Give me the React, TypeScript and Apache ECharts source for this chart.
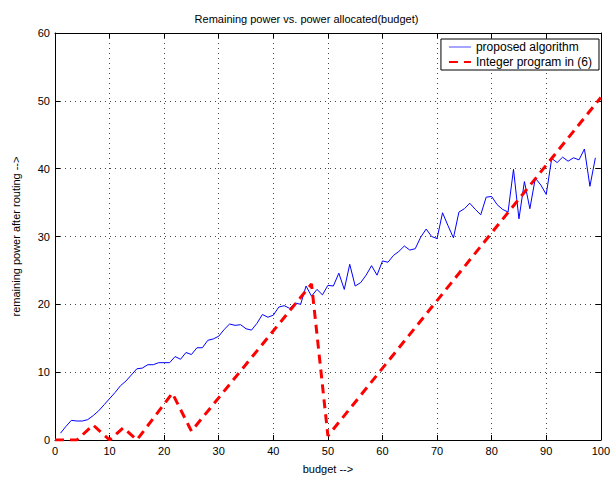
import React, { useEffect, useRef } from "react";
import * as echarts from "echarts";

const title = "Remaining power vs. power allocated(budget)";
const xName = "budget -->";
const yName = "remaining power after routing -->";
const seriesNames = ["proposed algorithm", "Integer program in (6)"];

const budget = [
  1, 2, 3, 4, 5, 6, 7, 8, 9, 10, 11, 12, 13, 14, 15, 16, 17, 18, 19, 20,
  21, 22, 23, 24, 25, 26, 27, 28, 29, 30, 31, 32, 33, 34, 35, 36, 37, 38, 39, 40,
  41, 42, 43, 44, 45, 46, 47, 48, 49, 50, 51, 52, 53, 54, 55, 56, 57, 58, 59, 60,
  61, 62, 63, 64, 65, 66, 67, 68, 69, 70, 71, 72, 73, 74, 75, 76, 77, 78, 79, 80,
  81, 82, 83, 84, 85, 86, 87, 88, 89, 90, 91, 92, 93, 94, 95, 96, 97, 98, 99,
];
const proposed = [
  1.0, 2.0, 2.9, 2.8, 2.8, 3.0, 3.6, 4.3, 5.2, 6.1,
  7.0, 8.0, 8.7, 9.6, 10.5, 10.6, 11.1, 11.1, 11.4, 11.4,
  11.4, 12.3, 11.9, 12.9, 12.6, 13.6, 13.6, 14.7, 14.9, 15.3,
  16.3, 17.1, 16.9, 17.0, 16.4, 16.2, 17.2, 18.5, 18.1, 18.4,
  19.6, 19.8, 19.4, 20.2, 20.0, 22.7, 21.2, 22.2, 21.4, 22.8,
  22.7, 24.6, 22.2, 25.9, 22.7, 23.2, 24.3, 25.7, 24.3, 26.4,
  26.2, 27.2, 27.8, 28.6, 28.0, 28.2, 29.9, 31.1, 30.0, 29.7,
  33.5, 31.6, 29.8, 33.6, 34.1, 34.9, 34.0, 33.2, 35.8, 35.9,
  34.7, 34.0, 33.6, 39.9, 32.6, 38.1, 34.1, 38.6, 37.6, 36.2,
  41.5, 40.9, 41.7, 41.1, 41.6, 41.3, 42.9, 37.4, 41.6,
];
const intX = [0, 4, 7, 10, 12.5, 15, 21.5, 25, 47, 50, 100];
const intY = [0, 0, 2.2, 0, 1.8, 0, 6.9, 1.3, 23, 0.6, 50.5];

const FONT = "Liberation Sans, Arial, Helvetica, sans-serif";

export default function App() {
  const ref = useRef<HTMLDivElement>(null);
  useEffect(() => {
    const chart = echarts.init(ref.current!, null, { renderer: "svg" });
    const splitLine = {
      show: true,
      lineStyle: { color: "#444", width: 1, type: [1, 4] as any },
    };
    const axisLine = { show: true, onZero: false, lineStyle: { color: "#000", width: 1 } };
    const axisTick = { show: true, inside: true, length: 5, lineStyle: { color: "#000" } };
    const label = { color: "#000", fontSize: 11, fontFamily: FONT };
    chart.setOption({
      animation: false,
      backgroundColor: "#fff",
      title: {
        text: title,
        left: "center",
        top: 8,
        textStyle: { fontSize: 11, fontWeight: "normal", color: "#000", fontFamily: FONT },
      },
      legend: {
        right: 14,
        top: 39,
        orient: "vertical",
        backgroundColor: "#fff",
        borderColor: "#000",
        borderWidth: 1,
        borderRadius: 0,
        padding: [2, 7, 2, 7],
        itemGap: 3,
        itemWidth: 22,
        itemHeight: 12,
        itemStyle: { opacity: 0 },
        textStyle: { fontSize: 12, color: "#000", fontFamily: FONT },
        data: [
          { name: seriesNames[0], lineStyle: { width: 1, color: "#4d4dff" } },
          { name: seriesNames[1] },
        ],
      },
      grid: { left: 55, right: 10, top: 33, bottom: 34, containLabel: false },
      xAxis: [
        {
          type: "value",
          min: 0,
          max: 100,
          interval: 10,
          name: xName,
          nameLocation: "middle",
          nameGap: 23,
          nameTextStyle: label,
          axisLine,
          axisTick,
          axisLabel: { ...label, margin: 5 },
          splitLine,
        },
        {
          type: "value",
          position: "top",
          min: 0,
          max: 100,
          interval: 10,
          axisLine,
          axisTick,
          axisLabel: { show: false },
          splitLine: { show: false },
        },
      ],
      yAxis: [
        {
          type: "value",
          min: 0,
          max: 60,
          interval: 10,
          name: yName,
          nameLocation: "middle",
          nameGap: 34,
          nameTextStyle: label,
          axisLine,
          axisTick,
          axisLabel: { ...label, margin: 5 },
          splitLine,
        },
        {
          type: "value",
          position: "right",
          min: 0,
          max: 60,
          interval: 10,
          axisLine,
          axisTick,
          axisLabel: { show: false },
          splitLine: { show: false },
        },
      ],
      series: [
        {
          name: seriesNames[0],
          type: "line",
          data: budget.map((b, i) => [b, proposed[i]]),
          showSymbol: false,
          symbol: "none",
          lineStyle: { color: "#0000ff", width: 1 },
          itemStyle: { color: "#0000ff" },
          z: 3,
        },
        {
          name: seriesNames[1],
          type: "line",
          data: intX.map((b, i) => [b, intY[i]]),
          showSymbol: false,
          symbol: "none",
          lineStyle: { color: "#ff0000", width: 3, type: [9, 6] },
          itemStyle: { color: "#ff0000" },
          z: 4,
        },
      ],
    });
    return () => chart.dispose();
  }, []);
  return (
    <div
      ref={ref}
      style={{ position: "fixed", left: 0, top: 0, width: 613, height: 479, background: "#fff" }}
    />
  );
}
